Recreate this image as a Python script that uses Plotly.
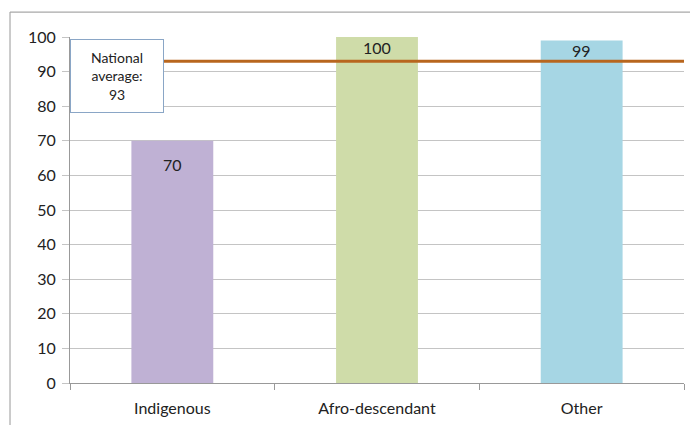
import plotly.graph_objects as go

categories = ["Indigenous", "Afro-descendant", "Other"]
values = [70, 100, 99]
bar_colors = ["#bfb1d4", "#cfdca9", "#a6d6e4"]
label_shift = [-12, 1, 1]
national_average = 93
y_ticks = list(range(0, 101, 10))

FONT = "Lato, Open Sans, sans-serif"
GRID = "#c4c4c4"

fig = go.Figure()
fig.add_trace(go.Bar(
    x=categories, y=values, marker=dict(color=bar_colors, line=dict(width=0)),
    width=0.4, hoverinfo="skip", showlegend=False,
))

for c, v, s in zip(categories, values, label_shift):
    fig.add_annotation(x=c, y=v, text=str(v), showarrow=False, yanchor="top",
                       yshift=s, font=dict(family=FONT, size=16, color="#222"))

# national average line
fig.add_shape(type="line", xref="x", yref="y", x0=-0.5, x1=2.5,
              y0=national_average, y1=national_average,
              line=dict(color="#b8661e", width=3), layer="above")

# callout box
fig.add_annotation(xref="paper", yref="paper", x=0.0, y=0.995, xanchor="left", yanchor="top",
                   text="National<br>average:<br>" + str(national_average),
                   showarrow=False, align="center", bgcolor="white",
                   bordercolor="#8aa6c6", borderwidth=1, borderpad=4, width=84, height=64,
                   font=dict(family=FONT, size=14, color="#222"))

# outer frame (top & left)
fig.add_shape(type="line", xref="paper", yref="paper", x0=-0.0977, x1=1.05,
              y0=1.072, y1=1.072, line=dict(color="#a8a8a8", width=1.2))
fig.add_shape(type="line", xref="paper", yref="paper", x0=-0.0977, x1=-0.0977,
              y0=1.072, y1=-0.16, line=dict(color="#a8a8a8", width=1.2))

fig.update_layout(
    width=698, height=425,
    margin=dict(l=62, r=22, t=29, b=50, autoexpand=False),
    paper_bgcolor="white", plot_bgcolor="white",
    bargap=0.6,
    font=dict(family=FONT, size=16, color="#222"),
    xaxis=dict(showgrid=False, showline=True, linecolor="#999", linewidth=1,
               ticks="outside", ticklen=6, tickcolor="#999", tickson="boundaries",
               ticklabelstandoff=11, tickfont=dict(size=16), range=[-0.5, 2.5],
               automargin=False),
    yaxis=dict(range=[0, 100], tickvals=y_ticks, showgrid=True, gridcolor=GRID, gridwidth=1,
               showline=True, linecolor="#999", linewidth=1, ticks="outside", ticklen=7,
               tickcolor=GRID, zeroline=False, tickfont=dict(size=16),
               ticklabelstandoff=3, automargin=False),
)

fig.write_html("out.html")
